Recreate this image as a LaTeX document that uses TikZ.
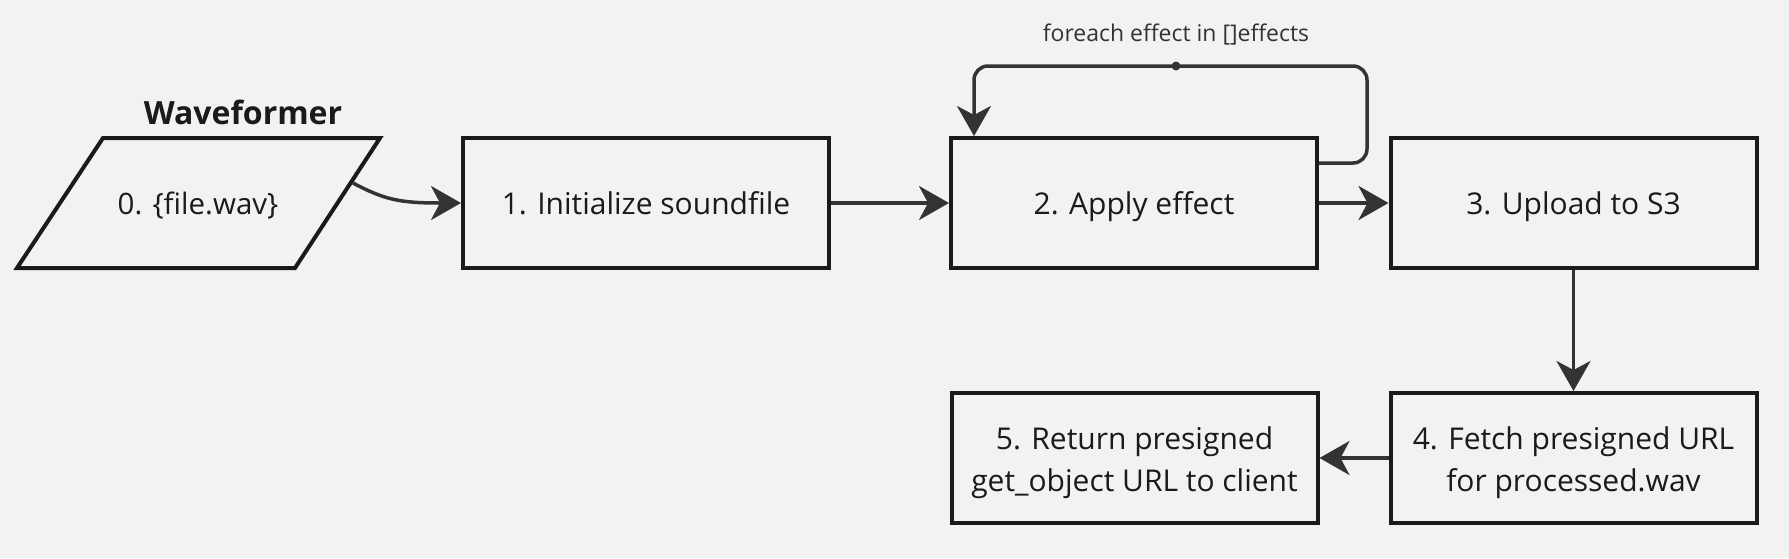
\documentclass[tikz,border=0pt]{standalone}
\usepackage{fontspec}
\setmainfont{Open Sans}
\usetikzlibrary{arrows.meta,positioning}

\definecolor{bgcol}{HTML}{F2F2F2}
\definecolor{edgecol}{HTML}{1A1A1A}
\definecolor{linecol}{HTML}{333333}

\begin{document}
\begin{tikzpicture}[x=1pt,y=-1pt,
    box/.style={draw=edgecol,line width=4pt,fill=bgcol,minimum width=366pt,
        minimum height=130pt,inner sep=0pt,align=center,text=edgecol,
        font=\fontsize{30}{42}\selectfont},
    oneline/.style={text height=22pt,text depth=0pt},
    twoline/.style={text height=74pt},
    flow/.style={draw=linecol,line width=3.5pt,
        -{Stealth[length=30pt,width=34pt,inset=9pt]}}]

% === Background and page size ===
\fill[bgcol] (0,0) rectangle (1789,558);
\useasboundingbox (0,0) rectangle (1789,558);

% === Input (parallelogram) ===
\draw[edgecol,line width=4pt,fill=bgcol,miter limit=20]
    (103,138) -- (380,138) -- (295,268) -- (17,268) -- cycle;
\node[font=\fontsize{29.5}{34}\selectfont,text=edgecol,oneline] (input) at (198,203) {0. \{file.wav\}};
\node[font=\fontsize{32}{38}\selectfont\bfseries,text=edgecol] (title) at (243,112) {Waveformer};
\coordinate (inout) at (353,183);

% === Processing steps ===
\node[box,oneline] (init) at (646,203) {1. Initialize soundfile};
\node[box,oneline] (apply) at (1134,203) {2. Apply effect};
\node[box,oneline] (upload) at (1573.5,203) {3. Upload to S3};
\node[box,twoline,below=121pt of upload] (fetch) {4. Fetch presigned URL\\for processed.wav};
\node[box,twoline,left=69pt of fetch] (ret) {5. Return presigned\\get\_object URL to client};

% === Connectors ===
\draw[flow] (inout) .. controls (385,200) and (400,203) .. (init.west);
\draw[flow] (init) -- (apply);
\draw[flow] (apply) -- (upload);
\draw[flow] (upload) -- (fetch);
\draw[flow] (fetch) -- (ret);

% Loop over effects
\coordinate (loopout) at ([yshift=-27pt]apply.north east);
\coordinate (loopin) at ([xshift=25pt]apply.north west);
\coordinate (loopmid) at (1176,66);
\draw[flow,rounded corners=14pt] (loopout) -- ++(48,0) |- (loopmid) -| (loopin);
\fill[linecol] (loopmid) circle (4.5pt);
\node[font=\fontsize{23}{27}\selectfont,text=linecol] (looplabel) at (1176,35) {foreach effect in []effects};

\end{tikzpicture}
\end{document}
